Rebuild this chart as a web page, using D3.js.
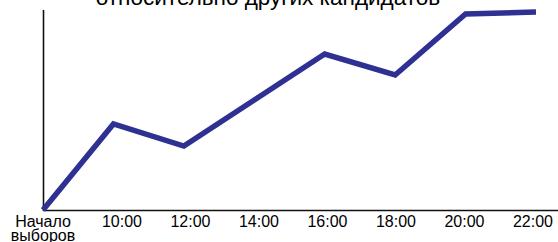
<!DOCTYPE html>
<html lang="ru">
<head>
    <meta charset="UTF-8">
    <title>Chart</title>
    <script src="https://d3js.org/d3.v7.min.js"></script>
    <style>
        body { margin: 0; background: #fff; }
        .title { font-family: "Liberation Sans", Arial, sans-serif; font-size: 22.5px; fill: #000; }
        .tick-label { font-family: "Liberation Sans", Arial, sans-serif; font-size: 16px; fill: #000; }
    </style>
</head>
<body>
    <div id="chart"></div>
    <script>
        // Data
        const times = ["Начало выборов", "10:00", "12:00", "14:00", "16:00", "18:00", "20:00", "22:00"];
        const values = [0, 43, 32, 55, 78, 67.5, 98, 99];

        // Dimensions
        const width = 558;
        const height = 242;

        const x = d3.scalePoint()
            .domain(times)
            .range([43, 536]);

        // hour labels sit on a slightly tighter grid than the points
        const xLabel = d3.scalePoint()
            .domain(times.slice(1))
            .range([122, 533]);

        const y = d3.scaleLinear()
            .domain([0, 100])
            .range([210, 10]);

        const svg = d3.select("#chart")
            .append("svg")
            .attr("width", width)
            .attr("height", height);

        // Title (cut off at the top)
        svg.append("text")
            .attr("class", "title")
            .attr("x", 268)
            .attr("y", 5)
            .attr("text-anchor", "middle")
            .text("относительно других кандидатов");

        // Axes lines
        svg.append("line")
            .attr("x1", 43).attr("x2", width)
            .attr("y1", y(0) + 0.5).attr("y2", y(0) + 0.5)
            .attr("stroke", "#111")
            .attr("stroke-width", 1.6);

        svg.append("line")
            .attr("x1", 43.5).attr("x2", 43.5)
            .attr("y1", y(100)).attr("y2", y(0) + 1)
            .attr("stroke", "#111")
            .attr("stroke-width", 1.6);

        // Line
        const line = d3.line()
            .x((d, i) => x(times[i]))
            .y(d => y(d));

        svg.append("path")
            .datum(values)
            .attr("d", line)
            .attr("fill", "none")
            .attr("stroke", "#2e3192")
            .attr("stroke-width", 5.5)
            .attr("stroke-linejoin", "miter");

        // Tick labels
        const labels = svg.selectAll(".tick-label")
            .data(times)
            .join("text")
            .attr("class", "tick-label")
            .attr("text-anchor", "middle")
            .attr("x", (d, i) => i === 0 ? x(d) : xLabel(d))
            .attr("y", 227);

        labels.each(function(d) {
            const parts = d.split(" ");
            d3.select(this).selectAll("tspan")
                .data(parts)
                .join("tspan")
                .attr("x", d3.select(this).attr("x"))
                .attr("dy", (p, j) => j === 0 ? 0 : 13.5)
                .text(p => p);
        });
    </script>
</body>
</html>
